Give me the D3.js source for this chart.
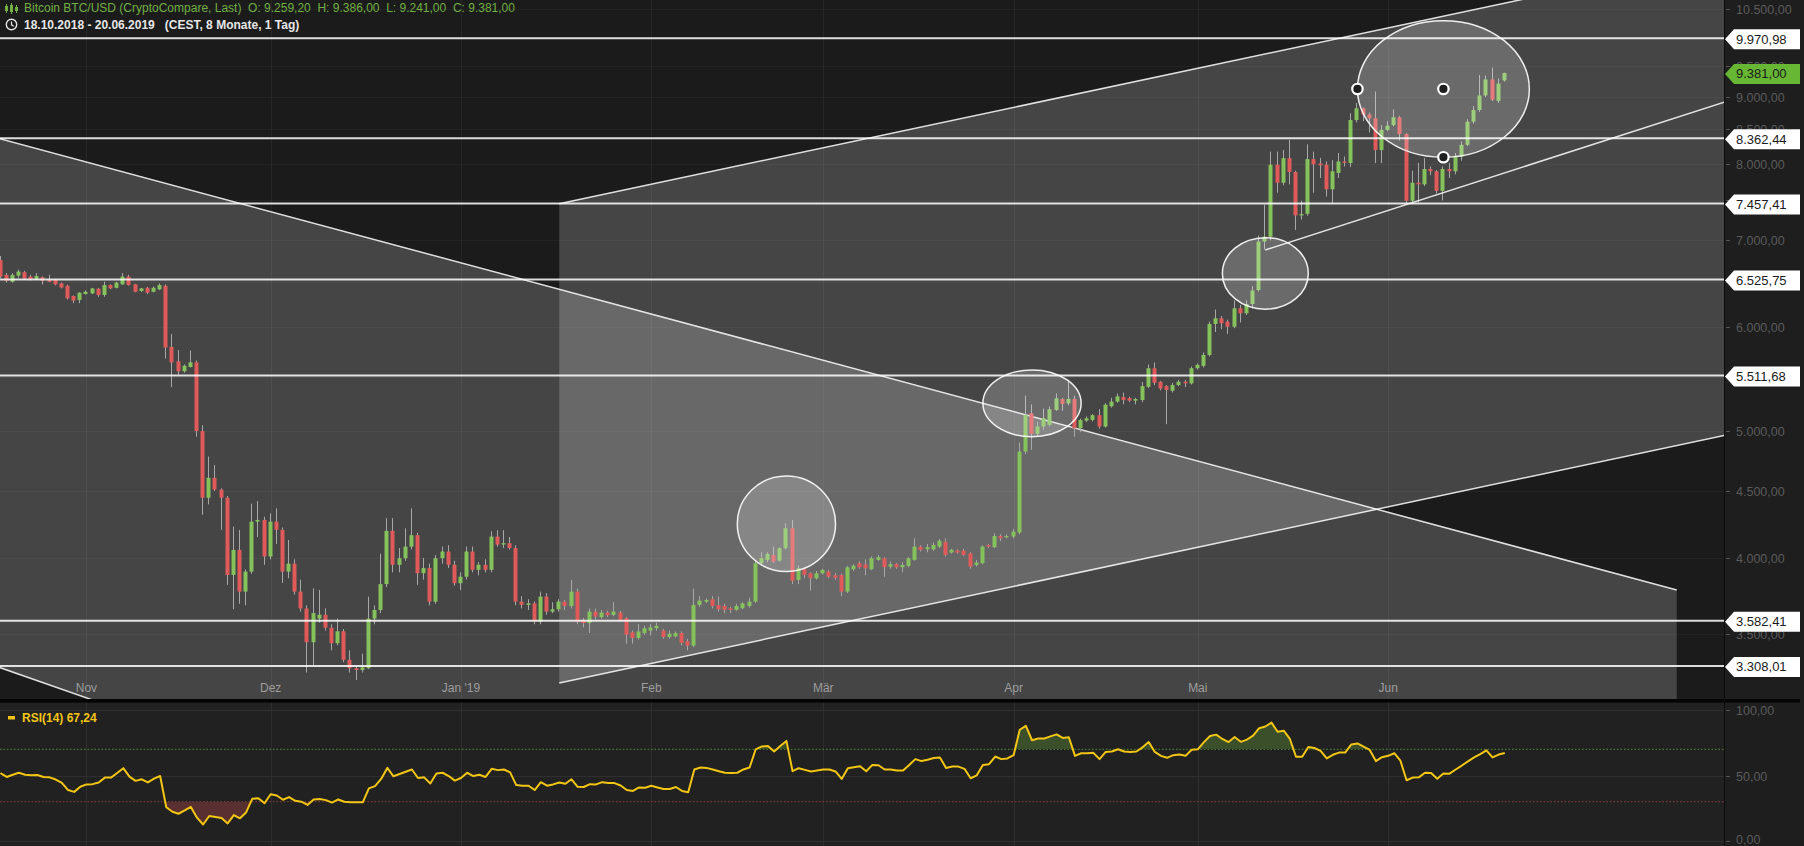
<!DOCTYPE html>
<html><head><meta charset="utf-8">
<script src="https://cdn.jsdelivr.net/npm/d3@7"></script>
<style>
html,body{margin:0;padding:0;background:#1b1b1b;overflow:hidden}
svg{display:block;font-family:"Liberation Sans",Arial,sans-serif}
</style></head><body>
<svg id="c" width="1804" height="846"></svg>
<script>
// ---------------- data ----------------
const startDate = "2018-10-18";
const open = [
6753,6578,6500,6570,6610,6559,6530,6551,6520,6520,6481,6454,6339,6295,
6361,6368,6420,6350,6462,6431,6470,6559,6470,6394,6431,6386,6413,6454,5796,5651,5553,5595,5641,4999,4446,4605,4510,4446,3882,4057,3770,3905,4263,4276,
4010,4263,4202,3905,3960,3770,3660,3449,3595,3620,3538,3443,3516,3344,3295,3285,3295,3595,3650,3820,4195,3952,3998,4080,4163,3894,3929,3704,3998,4045,3952,
3826,3870,4045,3917,3952,3917,4153,4095,4105,4070,3704,3683,3693,3577,3737,3640,3655,3704,3676,3770,3587,3567,3640,3604,3634,3619,3634,3598,3510,3475,3505,
3520,3535,3520,3481,3485,3505,3455,3429,3683,3704,3720,3681,3676,3661,3651,3661,3676,3704,3963,3986,4021,3981,4069,4214,3848,3921,3893,3859,
3893,3905,3880,3882,3770,3921,3963,3955,3921,3986,3998,3939,3958,3935,3944,3986,4080,4061,4061,4080,4116,4038,4052,4052,4033,3951,3963,4092,4076,4157,4148,
4153,4182,4822,5158,4975,5039,5054,5188,5289,5249,5289,5024,5092,5098,5141,5039,5222,5265,5307,5298,5274,5280,5404,5583,5452,5410,5367,5420,5452,5436,
5583,5606,5715,6035,6095,6059,6006,6203,6149,6250,6406,6975,7036,7984,7735,8077,7882,7303,7324,8063,8000,7984,7647,7870,8030,8007,8636,8816,8720,8663,8194,
8487,8560,8678,8428,7494,7735,7713,7924,7892,7625,7924,7892,8100,8268,8611,8790,9018,9275,8932,9259.2];
const high = [
6800,6600,6600,6640,6625,6580,6600,6560,6580,6530,6490,6465,6345,6380,
6400,6430,6430,6500,6470,6500,6600,6580,6475,6430,6440,6445,6480,6470,5930,5765,5620,5760,5660,5050,4780,4710,4520,4460,4226,4202,3920,4400,4420,4300,
4326,4364,4220,4128,3990,3850,3680,3792,3781,3660,3560,3595,3530,3400,3310,3380,3737,3680,4030,4290,4290,4070,4214,4364,4180,4000,3960,4020,4080,4090,3980,
3900,4080,4080,3970,3990,4192,4200,4200,4150,4090,3740,3720,3705,3770,3760,3700,3720,3715,3848,3790,3600,3660,3660,3650,3645,3700,3645,3605,3520,3560,3550,
3560,3570,3530,3520,3515,3515,3470,3790,3740,3725,3740,3737,3690,3670,3690,3700,3730,3980,4040,4040,4080,4075,4252,4276,3950,3935,3900,3910,
3925,3915,3895,3890,3945,3955,3975,3990,4010,4020,4005,3975,3965,3970,4005,4140,4090,4100,4110,4135,4140,4065,4060,4065,4040,3985,4090,4100,4175,4170,4170,
4210,4900,5320,5240,5080,5200,5220,5340,5300,5469,5320,5110,5130,5150,5196,5250,5300,5340,5350,5310,5300,5450,5620,5640,5460,5420,5440,5470,5470,5600,
5630,5740,6060,6190,6120,6080,6290,6240,6290,6450,7050,7440,8170,8170,8194,8340,7900,7494,8275,8170,8080,8030,8051,8150,8100,8740,8900,8830,8750,9080,8560,
8620,8800,8700,8440,7900,8010,8077,7960,7910,7960,8010,8150,8320,8650,8850,9348,9340,9470,9290,9386];
const low = [
6540,6490,6490,6545,6525,6515,6520,6470,6495,6460,6425,6300,6260,6259,
6355,6360,6330,6330,6415,6425,6465,6455,6380,6385,6360,6380,6405,5680,5400,5520,5540,5590,4950,4315,4395,4500,4202,3815,3655,3690,3680,3890,4150,3952,
3990,4100,3828,3860,3750,3640,3270,3314,3570,3520,3400,3430,3330,3270,3228,3270,3290,3560,3630,3800,3900,3900,3980,4060,3815,3850,3680,3690,3960,3930,3810,
3780,3850,3900,3880,3900,3900,4080,4070,4060,3680,3660,3650,3560,3560,3620,3630,3640,3650,3660,3560,3540,3505,3590,3595,3605,3610,3575,3440,3440,3465,3495,
3490,3520,3470,3470,3478,3430,3400,3420,3670,3695,3660,3640,3630,3630,3645,3655,3665,3695,3950,3970,3965,3975,4060,3820,3820,3860,3778,3850,
3885,3860,3850,3740,3760,3910,3925,3880,3915,3980,3870,3925,3925,3900,3935,3980,4045,4040,4050,4070,4010,4030,4030,4015,3925,3940,3955,4070,4070,4120,4140,
4140,4170,4800,4836,4960,5010,5040,5180,5180,5230,4950,4990,5080,5085,5020,5030,5210,5255,5240,5260,5240,5260,5390,5420,5370,5060,5350,5410,5400,5425,
5570,5590,5700,5950,5980,5930,5990,6050,6130,6200,6390,6880,6990,7600,7700,7713,7119,7250,7300,7600,7800,7550,7457,7800,7960,7950,8600,8620,8450,8007,8007,
8470,8540,8330,7460,7460,7470,7690,7840,7590,7500,7800,7850,8040,8250,8580,8760,8990,8930,8900,9241];
const close = [
6559,6512,6578,6617,6535,6530,6565,6512,6500,6470,6435,6313,6288,6375,
6386,6424,6350,6462,6424,6489,6559,6462,6386,6424,6375,6431,6462,5790,5641,5553,5608,5641,4999,4446,4605,4510,4446,3882,4057,3770,3905,4263,4276,4010,
4263,4202,3905,3960,3770,3660,3449,3630,3620,3538,3443,3516,3344,3295,3285,3300,3595,3650,3820,4195,3952,3998,4080,4163,3894,3929,3704,3998,4045,3952,3826,
3870,4045,3917,3952,3917,4153,4095,4105,4070,3704,3683,3693,3577,3737,3640,3655,3704,3676,3770,3577,3567,3640,3608,3634,3617,3640,3587,3495,3475,3515,3535,
3540,3550,3481,3501,3505,3445,3429,3683,3711,3715,3676,3655,3651,3651,3676,3693,3704,3963,3998,4028,3974,4069,4214,3843,3928,3882,3859,3893,
3916,3870,3862,3770,3935,3946,3935,3928,3998,4005,3935,3956,3935,3951,3998,4080,4057,4076,4092,4123,4021,4057,4038,4021,3939,3967,4080,4080,4157,4141,4157,
4189,4822,5143,4975,5039,5113,5194,5296,5243,5289,5024,5098,5113,5141,5039,5236,5265,5313,5280,5274,5289,5410,5583,5442,5388,5374,5420,5452,5436,5583,
5616,5715,6035,6095,6042,6006,6203,6149,6250,6400,6975,7036,7984,7735,8077,7882,7303,7320,8063,7990,7975,7647,7892,8030,8010,8636,8816,8720,8663,8194,8487,
8552,8678,8428,7494,7735,7713,7924,7892,7625,7924,7892,8100,8268,8611,8790,9018,9275,8950,9209,9381];
const rsi = [
51.9,48.9,50.6,52.1,50.6,50.1,50.4,48.9,48.6,46.9,44.4,38.9,37.5,41.4,
43.2,43.4,44.7,48.4,48.4,51.9,55.6,49.1,45.9,47.1,44.7,47.6,49.6,25.8,22.3,20.8,23.3,26.0,17.8,12.6,19.1,18.3,17.6,13.4,19.8,17.3,21.8,32.2,32.7,28.8,
35.7,34.7,31.5,33.5,30.7,30.0,27.5,31.7,32.0,31.2,29.3,31.7,30.0,29.5,29.5,29.5,40.2,41.9,47.4,55.8,49.4,51.1,52.9,54.6,48.1,48.6,43.9,51.6,52.1,49.6,46.1,
48.1,52.1,49.6,50.6,48.9,55.1,54.1,54.6,52.4,42.7,42.2,42.2,38.9,44.9,42.2,43.2,44.7,43.7,47.1,41.4,41.2,43.4,43.2,44.9,44.2,44.2,42.4,38.9,38.2,40.9,40.7,
42.2,40.9,39.7,39.7,41.2,38.2,37.2,54.6,56.1,55.8,54.6,53.3,52.1,51.9,52.1,54.6,56.1,70.0,72.2,72.5,68.3,72.5,76.4,53.3,55.6,54.3,53.1,53.8,
54.6,54.6,53.1,47.4,55.6,56.3,57.1,53.3,58.1,57.8,54.6,54.6,53.8,53.8,58.1,62.5,61.0,62.0,63.3,63.8,55.8,56.8,56.8,55.1,47.9,50.1,58.1,58.6,64.5,62.5,63.0,
65.5,84.9,87.9,76.9,78.2,78.2,79.9,81.4,78.7,79.2,65.0,67.0,67.0,67.3,62.5,68.0,68.3,70.0,68.3,68.0,68.3,71.5,75.5,68.0,65.0,63.5,65.5,66.0,65.0,69.7,
70.0,75.5,80.2,81.2,77.9,75.5,79.4,75.7,77.4,80.4,86.1,87.4,90.4,83.4,84.2,77.9,64.3,64.3,71.7,71.0,68.8,63.0,65.8,67.5,67.5,73.7,74.5,72.0,69.5,61.0,64.0,
65.0,67.0,61.3,46.4,48.4,48.6,52.1,51.9,47.6,51.6,51.4,54.6,57.6,60.8,63.8,66.3,69.2,63.8,66.0,67.24];

const levelPrices = [9970.98, 8362.44, 7457.41, 6525.75, 5511.68, 3582.41, 3308.01];
const priceTicks = [3500,4000,4500,5000,5500,6000,6500,7000,7500,8000,8500,9000,9500,10000,10500];
const rsiTicks = [0, 50, 100];
const rsiBands = [30, 70];
const monthTicks = ["2018-11-01","2018-12-01","2019-01-01","2019-02-01","2019-03-01","2019-04-01","2019-05-01","2019-06-01"];
const monthLabels = ["Nov","Dez","Jan '19","Feb","Mär","Apr","Mai","Jun"];
// drawing annotations (date, price anchors)
const fallingChannel = [["2018-10-17", 8378], ["2019-07-18", 3781], ["2019-07-18", 1176], ["2018-10-17", 3310]];
const risingChannel = [["2019-01-17", 7454], ["2019-07-26", 11518], ["2019-07-26", 4964], ["2019-01-17", 3211]];
const supportLine = [["2019-05-12", 6873], ["2019-07-26", 8921]];
const ellipseBoxes = [
  ["2019-02-15", "2019-03-03", 4620, 3905],
  ["2019-03-27", "2019-04-12", 5566, 4950],
  ["2019-05-05", "2019-05-19", 7023, 6194],
  ["2019-05-27", "2019-06-24", 10284, 8090]
];
const headerTitle = "Bitcoin BTC/USD (CryptoCompare, Last)";
const headerMeta = "(CEST, 8 Monate, 1 Tag)";
const rsiName = "RSI(14)";

// ---------------- chart ----------------
const plotW = 1724, mainH = 699, W = 1804, H = 846;
const parse = d3.utcParse("%Y-%m-%d");
const start = parse(startDate);
const dates = close.map((_, i) => d3.utcDay.offset(start, i));
const x = d3.scaleUtc().domain([start, d3.utcDay.offset(start, 280)]).range([0.5, 0.5 + 6.14 * 280]);
const y = d3.scaleLog().domain([3116, 10665]).range([700, 0]);
const ry = d3.scaleLinear().domain([0, 100]).range([841, 710]);
const de = d3.formatLocale({decimal: ",", thousands: ".", grouping: [3], currency: ["", ""]});
const fmt = de.format(",.2f");
const fmtDate = d3.utcFormat("%d.%m.%Y");
const P = a => [x(parse(a[0])), y(a[1])];

const svg = d3.select("#c");
const defs = svg.append("defs");
defs.append("clipPath").attr("id", "mainClip").append("rect").attr("x", 0).attr("y", 0).attr("width", plotW).attr("height", mainH);
defs.append("clipPath").attr("id", "rsiClip").append("rect").attr("x", 0).attr("y", 703).attr("width", plotW).attr("height", H - 703);
defs.append("clipPath").attr("id", "above70").append("rect").attr("x", 0).attr("y", 703).attr("width", plotW).attr("height", ry(70) - 703);
defs.append("clipPath").attr("id", "below30").append("rect").attr("x", 0).attr("y", ry(30)).attr("width", plotW).attr("height", H - ry(30));

// backgrounds
svg.append("rect").attr("width", W).attr("height", H).attr("fill", "#1b1b1b");
svg.append("rect").attr("x", 0).attr("y", 703).attr("width", plotW).attr("height", H - 703).attr("fill", "#212121");
svg.append("rect").attr("x", plotW).attr("y", 0).attr("width", W - plotW).attr("height", H).attr("fill", "#1e1e1e");

const main = svg.append("g").attr("clip-path", "url(#mainClip)");
const line = d3.line();

// shape fills
main.append("path").attr("d", line(fallingChannel.map(P)) + "Z").attr("fill", "rgba(255,255,255,0.19)");
main.append("path").attr("d", line(risingChannel.map(P)) + "Z").attr("fill", "rgba(255,255,255,0.19)");

// grid
const monthDates = monthTicks.map(parse);
main.selectAll(".vg").data(monthDates).join("line")
  .attr("x1", d => Math.round(x(d)) + 0.5).attr("x2", d => Math.round(x(d)) + 0.5)
  .attr("y1", 0).attr("y2", mainH).attr("stroke", "rgba(255,255,255,0.05)");
main.selectAll(".hg").data(priceTicks).join("line")
  .attr("x1", 0).attr("x2", plotW).attr("y1", d => Math.round(y(d)) + 0.5).attr("y2", d => Math.round(y(d)) + 0.5)
  .attr("stroke", "rgba(255,255,255,0.035)");

// shape edges
const edge = (a, b) => main.append("line")
  .attr("x1", P(a)[0]).attr("y1", P(a)[1]).attr("x2", P(b)[0]).attr("y2", P(b)[1])
  .attr("stroke", "rgba(255,255,255,0.85)").attr("stroke-width", 1.5);
edge(fallingChannel[0], fallingChannel[1]);
edge(fallingChannel[3], fallingChannel[2]);
edge(risingChannel[0], risingChannel[1]);
edge(risingChannel[3], risingChannel[2]);

// candles
const idx = d3.range(close.length);
const cg = main.append("g");
cg.selectAll(".wick").data(idx).join("rect")
  .attr("x", i => Math.round(x(dates[i])) - 1).attr("width", 1)
  .attr("y", i => y(high[i])).attr("height", i => Math.max(1, y(low[i]) - y(high[i])))
  .attr("fill", "#a8a8a8");
cg.selectAll(".body").data(idx).join("rect")
  .attr("x", i => Math.round(x(dates[i])) - 2.5).attr("width", 4)
  .attr("y", i => Math.min(y(open[i]), y(close[i])))
  .attr("height", i => Math.max(1.2, Math.abs(y(open[i]) - y(close[i]))))
  .attr("fill", i => close[i] >= open[i] ? "#86c25b" : "#e05a5a");

// level lines
main.selectAll(".lvl").data(levelPrices).join("line")
  .attr("x1", 0).attr("x2", plotW).attr("y1", d => y(d)).attr("y2", d => y(d))
  .attr("stroke", "rgba(255,255,255,0.85)").attr("stroke-width", 2);

// support trend line
edge(supportLine[0], supportLine[1]);

// ellipses
const ell = ellipseBoxes.map(b => {
  const x0 = x(parse(b[0])), x1 = x(parse(b[1])), y0 = y(b[2]), y1 = y(b[3]);
  return {cx: (x0 + x1) / 2, cy: (y0 + y1) / 2, rx: (x1 - x0) / 2, ry: (y1 - y0) / 2, x0, y1};
});
main.selectAll(".ell").data(ell).join("ellipse")
  .attr("cx", d => d.cx).attr("cy", d => d.cy).attr("rx", d => d.rx).attr("ry", d => d.ry)
  .attr("fill", "rgba(255,255,255,0.2)").attr("stroke", "rgba(255,255,255,0.9)").attr("stroke-width", 1.5);
const last = ell[ell.length - 1];
const handles = [[last.x0, last.cy], [last.cx, last.cy], [last.cx, last.y1]];
main.selectAll(".hdl").data(handles).join("circle")
  .attr("cx", d => d[0]).attr("cy", d => d[1]).attr("r", 5.2)
  .attr("fill", "#1e1e1e").attr("stroke", "#ffffff").attr("stroke-width", 2.2);

// date labels
svg.selectAll(".ml").data(monthDates).join("text")
  .attr("x", d => x(d)).attr("y", 692).attr("text-anchor", "middle")
  .attr("font-size", 12).attr("fill", "#9d9d9d").text((d, i) => monthLabels[i]);

// separator
svg.append("rect").attr("x", 0).attr("y", 699).attr("width", 1800).attr("height", 3.5).attr("fill", "#050505");

// ---------- RSI pane ----------
const rg = svg.append("g").attr("clip-path", "url(#rsiClip)");
rg.selectAll(".rvg").data(monthDates).join("line")
  .attr("x1", d => Math.round(x(d)) + 0.5).attr("x2", d => Math.round(x(d)) + 0.5)
  .attr("y1", 703).attr("y2", H).attr("stroke", "#2e2e2e");
rg.selectAll(".rhg").data(rsiTicks).join("line")
  .attr("x1", 0).attr("x2", plotW).attr("y1", d => Math.round(ry(d)) + 0.5).attr("y2", d => Math.round(ry(d)) + 0.5)
  .attr("stroke", "#2f2f2f");
rg.selectAll(".band").data(rsiBands).join("line")
  .attr("x1", 0).attr("x2", plotW).attr("y1", d => ry(d)).attr("y2", d => ry(d))
  .attr("stroke", d => d > 50 ? "#4f7a35" : "#7a3a3a").attr("stroke-width", 1.2).attr("stroke-dasharray", "1.5,2");
const areaHi = d3.area().x(i => x(dates[i])).y0(ry(70)).y1(i => ry(rsi[i]));
const areaLo = d3.area().x(i => x(dates[i])).y0(ry(30)).y1(i => ry(rsi[i]));
rg.append("path").attr("d", areaHi(idx)).attr("fill", "#3b4f2b").attr("clip-path", "url(#above70)");
rg.append("path").attr("d", areaLo(idx)).attr("fill", "#5a2f2f").attr("clip-path", "url(#below30)");
rg.append("path").attr("d", d3.line().x(i => x(dates[i])).y(i => ry(rsi[i]))(idx))
  .attr("fill", "none").attr("stroke", "#f3c614").attr("stroke-width", 2).attr("stroke-linejoin", "round");
svg.append("rect").attr("x", 8).attr("y", 716).attr("width", 7).attr("height", 3.5).attr("fill", "#f3c614");
svg.append("text").attr("x", 22).attr("y", 721.5).attr("font-size", 12).attr("font-weight", "bold").attr("fill", "#f3c614")
  .text(rsiName + " " + de.format(".2f")(rsi[rsi.length - 1]));

// ---------- axes ----------
svg.append("line").attr("x1", plotW + 0.5).attr("x2", plotW + 0.5).attr("y1", 0).attr("y2", H).attr("stroke", "#0c0c0c");
const ax = svg.append("g");
// tick labels fully hidden under a level tag are not drawn
const hiddenByTag = d => levelPrices.some(p => Math.abs(y(p) - y(d)) < 8);
ax.selectAll(".pt").data(priceTicks.filter(d => y(d) > 4 && y(d) < 696)).join("g").each(function(d) {
  const g = d3.select(this), yy = Math.round(y(d));
  g.append("line").attr("x1", plotW + 2).attr("x2", plotW + 6).attr("y1", yy + 0.5).attr("y2", yy + 0.5).attr("stroke", "#555");
  if (!hiddenByTag(d)) g.append("text").attr("x", plotW + 12).attr("y", yy + 4.5).attr("font-size", 12.5).attr("fill", "#5b5b5b").text(fmt(d));
});
ax.selectAll(".rt").data(rsiTicks).join("g").each(function(d) {
  const g = d3.select(this), yy = Math.round(ry(d));
  g.append("line").attr("x1", plotW + 2).attr("x2", plotW + 6).attr("y1", yy + 0.5).attr("y2", yy + 0.5).attr("stroke", "#555");
  g.append("text").attr("x", plotW + 12).attr("y", Math.min(yy + 4.5, 844)).attr("font-size", 12.5).attr("fill", "#5b5b5b").text(fmt(d));
});
// price tags
const tag = (price, fill, txt) => {
  const yy = y(price) + 1;
  ax.append("path").attr("d", `M${plotW + 1},${yy} L${plotW + 10},${yy - 10} L1800,${yy - 10} L1800,${yy + 10} L${plotW + 10},${yy + 10} Z`).attr("fill", fill);
  ax.append("text").attr("x", plotW + 12).attr("y", yy + 4.5).attr("font-size", 13).attr("fill", txt).text(fmt(price));
};
levelPrices.forEach(p => tag(p, "#ffffff", "#1a1a1a"));
tag(close[close.length - 1], "#67b634", "#1a1a1a");

// ---------- header ----------
const hd = svg.append("g");
[[6, 4, 9], [11, 3, 11], [16, 5, 8]].forEach(c => {
  hd.append("line").attr("x1", c[0] + 0.5).attr("x2", c[0] + 0.5).attr("y1", c[1]).attr("y2", c[1] + c[2]).attr("stroke", "#72b043").attr("stroke-width", 1);
  hd.append("rect").attr("x", c[0] - 1).attr("y", c[1] + 2).attr("width", 3).attr("height", c[2] - 4).attr("fill", "#72b043");
});
hd.append("text").attr("x", 24).attr("y", 12).attr("font-size", 12).attr("fill", "#72b043").style("white-space", "pre")
  .text(`${headerTitle}  O: ${fmt(open[open.length - 1])}  H: ${fmt(high[high.length - 1])}  L: ${fmt(low[low.length - 1])}  C: ${fmt(close[close.length - 1])}`);
hd.append("circle").attr("cx", 11.5).attr("cy", 24.5).attr("r", 5.2).attr("fill", "none").attr("stroke", "#e6e6e6").attr("stroke-width", 1.4);
hd.append("path").attr("d", "M11.5,21.5 L11.5,24.8 L13.8,26.2").attr("fill", "none").attr("stroke", "#e6e6e6").attr("stroke-width", 1.2);
hd.append("text").attr("x", 24).attr("y", 28.5).attr("font-size", 12).attr("font-weight", "bold").attr("fill", "#e6e6e6").style("white-space", "pre")
  .text(`${fmtDate(dates[0])} - ${fmtDate(dates[dates.length - 1])}   ${headerMeta}`);
</script>
</body></html>
